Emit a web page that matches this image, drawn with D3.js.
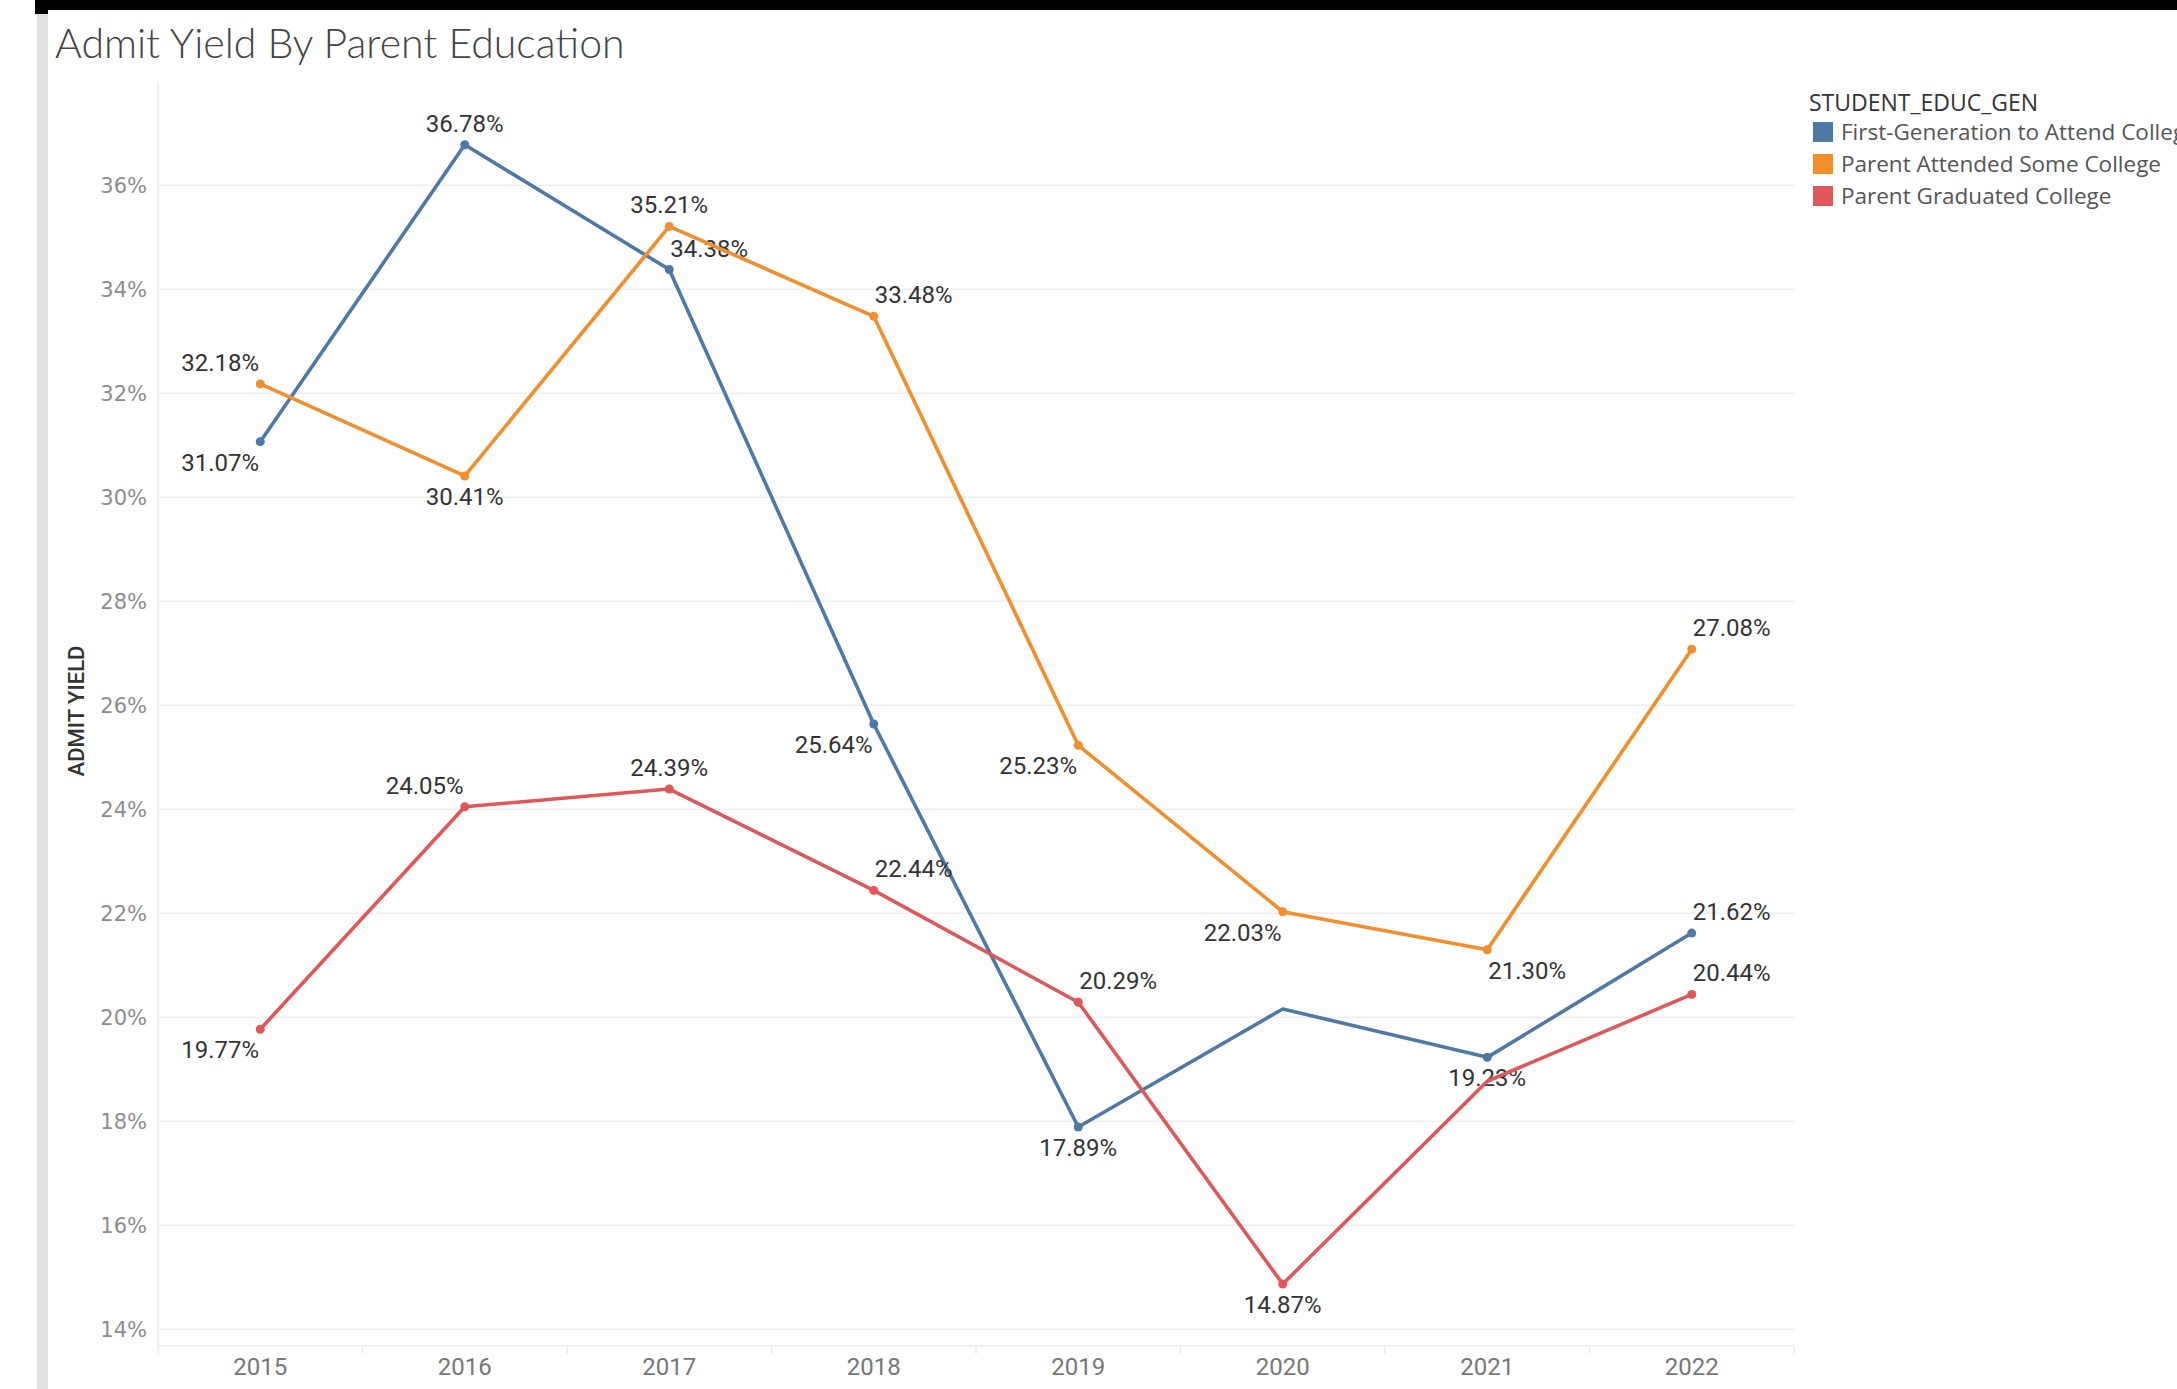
<!DOCTYPE html>
<html>
<head>
<meta charset="utf-8">
<script src="https://cdn.jsdelivr.net/npm/d3@7"></script>
<style>
  body { margin: 0; background: #fff; overflow: hidden; }
  svg { display: block; }
</style>
</head>
<body>
<svg id="chart" width="2177" height="1389"></svg>
<script>
// data
var years = ["2015", "2016", "2017", "2018", "2019", "2020", "2021", "2022"];
var seriesNames = ["First-Generation to Attend College", "Parent Attended Some College", "Parent Graduated College"];
var firstGen = [31.07, 36.78, 34.38, 25.64, 17.89, 20.16, 19.23, 21.62];
var someCollege = [32.18, 30.41, 35.21, 33.48, 25.23, 22.03, 21.30, 27.08];
var gradCollege = [19.77, 24.05, 24.39, 22.44, 20.29, 14.87, 18.77, 20.44];
var yTicks = [14, 16, 18, 20, 22, 24, 26, 28, 30, 32, 34, 36];

// where tableau put each mark label (null = label hidden)
var firstGenLabels = ["bl", "t", "tr", "bl", "b", null, "b", "tr"];
var someCollegeLabels = ["tl", "b", "t", "tr", "bl", "bl", "br", "tr"];
var gradCollegeLabels = ["bl", "tl", "t", "tr", "tr", "b", null, "tr"];

var colors = ["#4e79a7", "#f28e2b", "#e15759"];

var svg = d3.select("svg#chart");
var margin = {top: 83, left: 158, right: 385, bottom: 43};
var width = 2177, height = 1389;

// frame bits around the dashboard
svg.append("rect").attr("x", 35).attr("y", 0).attr("width", width - 35).attr("height", 10).attr("fill", "#000");
svg.append("rect").attr("x", 35).attr("y", 0).attr("width", 13).attr("height", 14).attr("fill", "#000");
svg.append("rect").attr("x", 37).attr("y", 14).attr("width", 11).attr("height", height - 14).attr("fill", "#e2e2e2");

svg.append("text")
  .attr("x", 55).attr("y", 58)
  .attr("font-family", "Lato").attr("font-weight", 300)
  .attr("font-size", 41).attr("fill", "#444")
  .text("Admit Yield By Parent Education");

var x = d3.scaleBand()
  .domain(years)
  .range([158, 1794]);

var y = d3.scaleLinear()
  .domain([36, 14])
  .range([185.3, 1329.3]);

// grid
svg.append("g").selectAll("line")
  .data(yTicks)
  .join("line")
  .attr("x1", 158).attr("x2", 1794)
  .attr("y1", d => y(d)).attr("y2", d => y(d))
  .attr("stroke", "#efefef").attr("stroke-width", 1.5);

svg.append("line")
  .attr("x1", 158).attr("x2", 158).attr("y1", margin.top).attr("y2", 1346)
  .attr("stroke", "#ececec").attr("stroke-width", 1.5);

// x header line and dividers
svg.append("line")
  .attr("x1", 158).attr("x2", 1794).attr("y1", 1346).attr("y2", 1346)
  .attr("stroke", "#ececec").attr("stroke-width", 1.5);
svg.append("g").selectAll("line")
  .data(years.concat(["end"]))
  .join("line")
  .attr("x1", (d, i) => 158 + i * x.step()).attr("x2", (d, i) => 158 + i * x.step())
  .attr("y1", 1346).attr("y2", 1354)
  .attr("stroke", "#ececec").attr("stroke-width", 1.5);

// y axis
var yAxis = svg.append("g")
  .attr("transform", translate(150, 0))
  .call(d3.axisLeft(y).tickValues(yTicks).tickSize(0).tickFormat(d => d + "%"));
yAxis.select(".domain").remove();
yAxis.selectAll("text")
  .attr("font-family", "DejaVu Sans").attr("font-size", 21).attr("fill", "#8c8c8c")
  .attr("dy", "0.35em");

svg.append("text")
  .attr("transform", "translate(84,711) rotate(-90)")
  .attr("text-anchor", "middle")
  .attr("font-family", "Roboto").attr("font-weight", 500)
  .attr("font-size", 22).attr("fill", "#333")
  .text("ADMIT YIELD");

// x axis
var xAxis = svg.append("g")
  .attr("transform", translate(0, 1346))
  .call(d3.axisBottom(x).tickSize(0));
xAxis.select(".domain").remove();
xAxis.selectAll("text")
  .attr("font-family", "Roboto").attr("font-size", 24).attr("fill", "#777")
  .attr("y", 12);

// lines
var allSeries = [firstGen, someCollege, gradCollege];
var allLabels = [firstGenLabels, someCollegeLabels, gradCollegeLabels];

var line = d3.line()
  .x((d, i) => x(years[i]) + x.bandwidth() / 2)
  .y(d => y(d));

allSeries.forEach(function(values, s) {
  var g = svg.append("g").attr("class", "series");
  g.append("path")
    .datum(values)
    .attr("d", line)
    .attr("fill", "none")
    .attr("stroke", colors[s])
    .attr("stroke-width", 3.6)
    .attr("stroke-linejoin", "round");

  var pts = values.map((v, i) => ({v: v, i: i, pos: allLabels[s][i]})).filter(d => d.pos);

  g.selectAll("circle")
    .data(pts)
    .join("circle")
    .attr("cx", d => x(years[d.i]) + x.bandwidth() / 2)
    .attr("cy", d => y(d.v))
    .attr("r", 4.5)
    .attr("fill", colors[s]);

  g.selectAll("text")
    .data(pts)
    .join("text")
    .attr("x", d => {
      var cx = x(years[d.i]) + x.bandwidth() / 2;
      if (d.pos.indexOf("l") > -1) return cx - 40;
      if (d.pos.indexOf("r") > -1) return cx + 40;
      return cx;
    })
    .attr("y", d => y(d.v) + (d.pos[0] == "t" ? -13 : 29))
    .attr("text-anchor", "middle")
    .attr("font-family", "Roboto").attr("font-size", 24).attr("fill", "#333")
    .text(d => d.v.toFixed(2) + "%");
});

// legend
var legend = svg.append("g").attr("transform", translate(1809, 0));
legend.append("text")
  .attr("x", 0).attr("y", 111)
  .attr("font-family", "Open Sans").attr("font-size", 23).attr("fill", "#333")
  .text("STUDENT_EDUC_GEN");
var items = legend.selectAll("g.item")
  .data(seriesNames)
  .join("g")
  .attr("class", "item")
  .attr("transform", (d, i) => translate(0, 132 + i * 32));
items.append("rect")
  .attr("x", 4).attr("y", -10).attr("width", 20).attr("height", 20)
  .attr("fill", (d, i) => colors[i]);
items.append("text")
  .attr("x", 32).attr("y", 8)
  .attr("font-family", "Open Sans").attr("font-size", 22.5).attr("fill", "#555")
  .text(d => d);

/*
 * returns a translate string for the transform attribute
 */
function translate(x, y) {
  return 'translate(' + String(x) + ',' + String(y) + ')';
}
</script>
</body>
</html>
